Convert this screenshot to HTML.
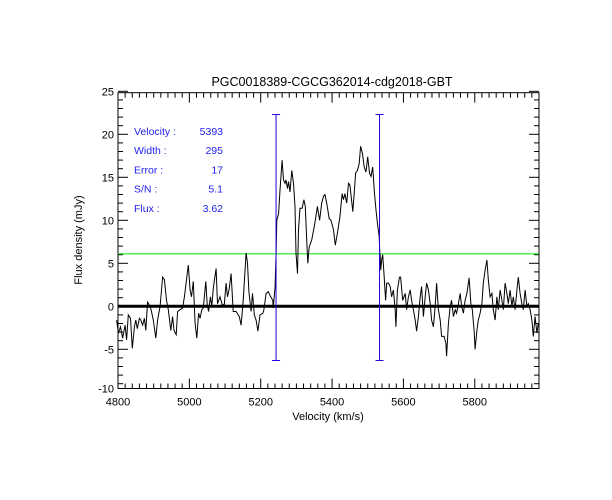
<!DOCTYPE html>
<html><head><meta charset="utf-8"><style>
html,body{margin:0;padding:0;background:#fff;}
svg{display:block;font-family:"Liberation Sans",sans-serif;}
</style></head><body>
<svg id="chart" width="612" height="500" xmlns="http://www.w3.org/2000/svg">
<rect width="612" height="500" fill="#fff"/>
<text x="332" y="86" font-size="12.5" text-anchor="middle" fill="#000">PGC0018389-CGCG362014-cdg2018-GBT</text>
<text x="328" y="420" font-size="11" text-anchor="middle" fill="#000">Velocity (km/s)</text>
<text transform="translate(82,240) rotate(-90)" font-size="11" text-anchor="middle" fill="#000">Flux density (mJy)</text>
<g id="axes"></g>
<g id="marks"></g>
<g id="info" font-size="10.5" fill="#2222ee"></g>
</svg>
<script>
const velocities=[4796,4801,4807,4813,4820,4824,4829,4835,4840,4846,4850,4854,4860,4864,4869,4874,4878,4883,4890,4894,4899,4906,4911,4918,4925,4930,4936,4941,4948,4953,4957,4963,4967,4974,4981,4986,4991,4997,5002,5006,5011,5016,5021,5026,5030,5035,5039,5046,5050,5054,5059,5063,5067,5075,5079,5086,5092,5098,5103,5107,5112,5117,5123,5131,5140,5145,5151,5159,5163,5167,5173,5177,5182,5187,5192,5198,5206,5209,5215,5221,5228,5234,5235,5240,5243,
5245,5250,5254,5260,5264,5268,5271,5275,5278,5282,5287,5292,5296,5299,5303,5306,5310,5316,5321,5325,5329,5332,5336,5343,5352,5359,5365,5371,5376,5380,5385,5392,5397,5404,5409,5415,5422,5428,5432,5436,5441,5446,5450,5455,5458,5462,5466,5471,5476,5480,5485,5490,5495,5500,5505,5509,5514,5519,5523,5527,5532,5534,
5535,5536.4,5539,5542,5546,5550,5553,5558,5563,5567,5572,5577,5579,5583,5589,5592,5598,5605,5609,5614,5619,5623,5628,5633,5637,5642,5647,5651,5656,5661,5665,5670,5675,5679,5684,5689,5693,5698,5703,5707,5714,5719,5721,5726,5731,5735,5740,5745,5749,5754,5759,5763,5768,5773,5778,5784,5789,5793,5798,5801,5806,5810,5815,5820,5824,5829,5834,5838,5843,5848,5852,5857,5862,5866,5871,5876,5880,5885,5890,5894,5899,5904,5908,5913,5918,5922,5927,5932,5936,5941,5946,5950,5955,5960,5964,5969,5974,5978];
const fluxes=[-1.6,-3.1,-2.4,-3.7,-2.2,-3.9,-1.0,-1.4,-4.9,-2.4,-1.6,-2.6,-1.4,-1.6,-2.2,-1.4,-2.8,0.5,0,-0.6,-1.6,-3.7,-1.6,0,3.4,3.1,0.7,-0.4,-2.8,-1.2,-2.8,-3.3,-0.6,-0.4,-0.2,1.1,2.7,4.8,1.9,1.1,2.9,-2.0,-3.7,-0.8,-1.4,-0.4,-0.2,2.9,0.2,-0.6,1.1,0,2.1,4.4,0.3,1.1,0.2,0.2,2.7,1.1,2.1,3.8,-0.6,-0.6,-1.2,-2.2,0.7,6.2,5.0,1.7,-0.6,1.5,-1.0,-1.6,-2.9,-1.0,-0.8,-0.4,1.5,1.7,1.1,0.7,-0.2,2.1,6.2,
10.0,10.8,13.5,17.0,14.7,14.3,14.7,13.7,14.5,13.3,15.8,14.3,11.6,6.2,3.8,8.9,11.4,11.4,12.4,11.6,7.7,5.0,6.9,7.7,9.7,11.6,10.0,12.0,12.8,13.0,12.0,10.2,10.0,8.9,7.1,8.5,10.4,13.1,12.4,13.1,12.0,14.3,14.1,12.2,11.0,13.1,15.5,15.8,16.6,18.6,17.8,16.2,15.6,17.4,15.5,15.1,16.2,13.1,11.2,9.7,8.1,5.8,
6.0,4.2,5.4,6.0,3.4,0.7,2.7,2.7,2.3,1.1,1.9,-0.4,-2.4,1.9,3.4,3.4,0.7,1.5,-0.4,1.1,1.9,0.7,-0.4,-1.6,-2.9,-1.2,1.1,2.3,-1.2,1.1,2.7,1.9,0.3,-1.6,-2.4,0,2.7,-0.4,-1.6,-3.5,-3.5,-4.3,-5.8,-2.0,0,0.7,-1.2,-0.4,-0.8,0.3,1.5,0,-0.8,0.7,1.5,3.3,0.3,-0.4,-2.8,-5.0,-2.8,-1.6,-0.8,0.3,2.7,4.2,5.4,3.1,1.1,1.5,-0.4,-1.6,1.1,-0.4,1.9,0.7,-0.4,2.7,1.5,0.3,1.9,0,1.1,-0.4,1.9,3.4,1.5,0.3,-0.4,1.9,0,0.3,-0.4,-1.6,-3.5,-1.2,-3.1,-2.0];
const xTicks=[4800,5000,5200,5400,5600,5800];
const yTicks=[-10,-5,0,5,10,15,20,25];
const windowEdges=[5243,5533];
const windowRange=[-6.3,22.3];
const thresholdLevel=[6.1];
const infoLabels=["Velocity :","Width :","Error :","S/N :","Flux :"];
const infoValues=["5393","295","17","5.1","3.62"];

const L=118,R=539,T=92.7,B=388.5;
const xMin=4800,xMax=5980;
function X(v){return L+(v-xMin)*(R-L)/(xMax-xMin);}
function Y(f){return 306.3-8.6*f;}
const NS="http://www.w3.org/2000/svg";
function mk(parent,tag,attrs){const e=document.createElementNS(NS,tag);for(const k in attrs)e.setAttribute(k,attrs[k]);parent.appendChild(e);return e;}
const axes=document.getElementById('axes'),marks=document.getElementById('marks'),info=document.getElementById('info');

// frame
const fr=mk(axes,'rect',{x:L,y:T,width:R-L,height:B-T,fill:'none',stroke:'#000','stroke-width':1});


// x ticks
for(let v=4800;v<=5980;v+=20){
  const major=xTicks.includes(v);const len=major?10:5;const x=X(v);
  const t1=mk(axes,'line',{x1:x,x2:x,y1:B,y2:B-len,stroke:'#000'});
  
  
  const t2=mk(axes,'line',{x1:x,x2:x,y1:T,y2:T+len,stroke:'#000'});
  
  
}
xTicks.forEach(v=>{
  const t=mk(axes,'text',{x:X(v),y:B+17,'font-size':11,'text-anchor':'middle',fill:'#000'});t.textContent=v;
  
  
});
for(let f=-9;f<=25;f+=1){
  const major=yTicks.includes(f);const len=major?10:5;const y=Y(f);
  const t1=mk(axes,'line',{x1:L,x2:L+len,y1:y,y2:y,stroke:'#000'});
  
  
  const t2=mk(axes,'line',{x1:R,x2:R-len,y1:y,y2:y,stroke:'#000'});
  
  
}
yTicks.forEach(f=>{
  const y=Math.min(Y(f),B);
  const t=mk(axes,'text',{x:L-4,y:y+4,'font-size':11,'text-anchor':'end',fill:'#000'});t.textContent=f;
  
  
});
// zero baseline
const zl=mk(marks,'line',{x1:L,x2:R,y1:Y(0),y2:Y(0),stroke:'#000','stroke-width':3});


// threshold
const gl=mk(marks,'line',{x1:L,x2:R,y1:Y(thresholdLevel[0]),y2:Y(thresholdLevel[0]),stroke:'#00e000','stroke-width':1});


// spectrum
let d='';
velocities.forEach((v,i)=>{d+=(i?'L':'M')+X(v).toFixed(1)+','+Y(fluxes[i]).toFixed(1);});
const sp=mk(marks,'path',{d:d,fill:'none',stroke:'#000','stroke-width':1});


// window markers
windowEdges.forEach(v=>{
  const x=X(v);
  const l=mk(marks,'line',{x1:x,x2:x,y1:Y(windowRange[1]),y2:Y(windowRange[0]),stroke:'#2200dd','stroke-width':1});
  
  
  windowRange.forEach(f=>{
    const c=mk(marks,'line',{x1:x-4,x2:x+4,y1:Y(f),y2:Y(f),stroke:'#2200dd'});
    
    
  });
});
// info
infoLabels.forEach((s,i)=>{
  const y=135+i*19.2;
  const a=mk(info,'text',{x:134,y:y});a.textContent=s;
  
  
  const b=mk(info,'text',{x:223,y:y,'text-anchor':'end'});b.textContent=infoValues[i];
  
  
});
</script>
</body></html>
